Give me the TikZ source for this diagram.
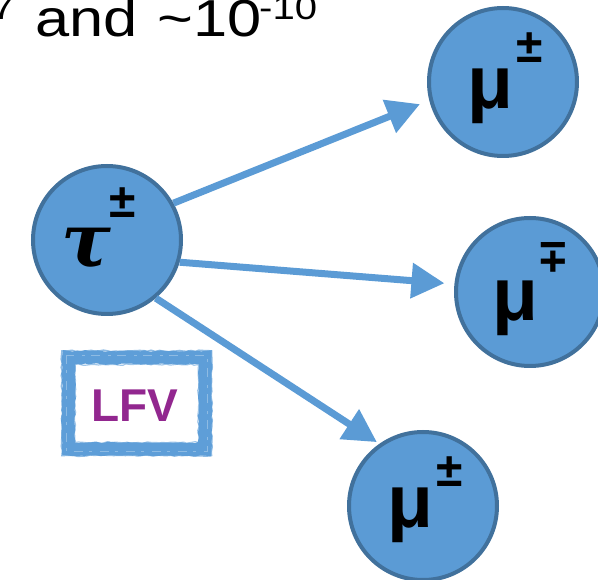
\documentclass[tikz,border=0pt]{standalone}
\usepackage{fontspec}
\setmainfont{Liberation Sans}
\newfontfamily\taufont{DejaVu Serif}
\usetikzlibrary{arrows.meta,decorations.pathmorphing}
\definecolor{ballfill}{HTML}{5B9BD5}
\definecolor{balledge}{HTML}{41719C}
\definecolor{arrowc}{HTML}{5B9BD5}
\definecolor{lfvpurple}{HTML}{92278F}
\definecolor{framec}{HTML}{5E9ED8}
\begin{document}
\begin{tikzpicture}[x=1pt,y=-1pt,
  ball/.style={circle,fill=ballfill,draw=balledge,line width=4pt,minimum size=148pt,inner sep=0pt},
  mulabel/.style={font=\fontsize{75}{75}\selectfont\bfseries,inner sep=0pt},
  pmlabel/.style={font=\fontsize{48}{48}\selectfont\bfseries,inner sep=0pt},
  arr/.style={draw=arrowc,line width=7pt,-{Triangle[length=33pt,width=34pt]}},
  brush/.style={framec,decorate,decoration={random steps,segment length=4pt,amplitude=0.8pt}},
  bigtext/.style={inner sep=0pt,text=black,font=\fontsize{52}{52}\selectfont,xscale=1.18,anchor=base west},
  suptext/.style={inner sep=0pt,text=black,font=\fontsize{34}{34}\selectfont,xscale=1.18,anchor=base west}
  ]
\useasboundingbox (0,0) rectangle (598,580);
\clip (0,0) rectangle (598,580);

% top text (cut off at the edges, as in the reference)
\node[suptext] (topseven) at (-8,20) {7};
\node[bigtext] (topand) at (35,37) {and};
\node[bigtext] (topten) at (157,37) {\textasciitilde 10};
\node[suptext] (topsup) at (259,20) {-10};

% particles
\node[ball] (tau) at (107,240) {};
\node[ball] (mua) at (503,82) {};
\node[ball] (mub) at (530,292) {};
\node[ball] (muc) at (423,506) {};

% arrows
\draw[arr,shorten >=10pt] (tau.29) -- (mua.194);
\draw[arr,shorten >=10pt] (tau.-17.5) -- (mub.174);
\draw[arr,shorten >=3pt] (tau.-50) -- (muc.125);

% labels
\node[inner sep=0pt,font=\fontsize{74}{74}\taufont\bfseries\itshape] (taul) at (86,249) {τ};
\node[pmlabel] (taupm) at (123,203) {±};
\node[mulabel] (mual) at (490,96) {μ};
\node[pmlabel] (muapm) at (530,48) {±};
\node[mulabel] (mubl) at (515,308) {μ};
\node[pmlabel,rotate=180] (mubpm) at (553,257) {±};
\node[mulabel] (mucl) at (410,515) {μ};
\node[pmlabel] (mucpm) at (450,472) {±};

% LFV brushed frame
\draw[brush,line width=13pt] (68.5,357.5) rectangle (205,449);
\draw[brush,line width=1.6pt,opacity=.7] (62,351) rectangle (211.5,455.5);
\draw[brush,line width=1.2pt,opacity=.6] (75,364.5) rectangle (198.5,442.5);
\draw[white,line width=0.5pt,opacity=.3,dash pattern=on 9pt off 6pt on 3pt off 8pt] (66,355) rectangle (207.5,451.5);
\node[inner sep=0pt,font=\fontsize{46}{46}\selectfont\bfseries,text=lfvpurple] (lfv) at (135,406) {LFV};
\end{tikzpicture}
\end{document}
